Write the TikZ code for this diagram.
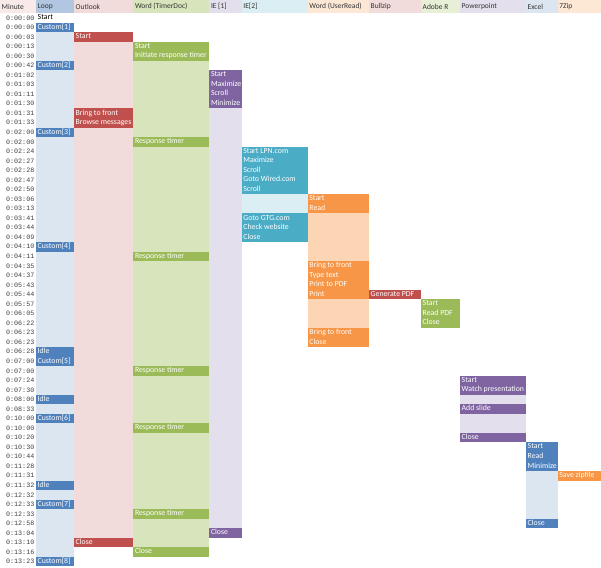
\documentclass[tikz,border=0pt]{standalone}
\usepackage{fontspec}
\setmainfont{Carlito}
\newfontfamily\minutefont{Liberation Mono}
\usetikzlibrary{positioning}

\definecolor{loopD}{HTML}{4F81BD}
\definecolor{loopL}{HTML}{DCE6F1}
\definecolor{outD}{HTML}{C0504D}
\definecolor{outL}{HTML}{F2DCDB}
\definecolor{wordD}{HTML}{9BBB59}
\definecolor{wordL}{HTML}{D8E4BC}
\definecolor{ieaD}{HTML}{8064A2}
\definecolor{ieaL}{HTML}{E4DFEC}
\definecolor{iebD}{HTML}{4BACC6}
\definecolor{iebL}{HTML}{DAEEF3}
\definecolor{readD}{HTML}{F79646}
\definecolor{readL}{HTML}{FCD5B4}

% one coloured cell of the timeline with its text
\newcommand\taskcell[6]{%
  \fill[#5] (#2,{rt(#4)}) rectangle (#3,{rt(#4)+9.54});
  \node[celltext] (#1) at (#2,{rt(#4)+4.77}) {#6};}

\begin{document}
\begin{tikzpicture}[x=1pt, y=-1pt,
  declare function={rt(\k)=3.5+9.54*\k;},
  celltext/.style={anchor=west, inner sep=1.5pt, text=white, text height=5.3pt, text depth=1.6pt,
    font=\fontsize{7.8}{8}\selectfont},
  head/.style={anchor=west, inner sep=1.5pt, text=black!80, font=\fontsize{7.5}{8}\selectfont},
  minute/.style={anchor=east, inner sep=1pt, text=black!75, font=\minutefont\fontsize{6.7}{7}\selectfont}
]
  \useasboundingbox (0,0) rectangle (601,567);

  % header row
  \fill[outL!60]      (0,0)     rectangle (36,13);
  \fill[loopD!45]     (36,0)    rectangle (74,13);
  \fill[outL]         (74,0)    rectangle (133.3,13);
  \fill[wordL]        (133.3,0) rectangle (209.3,13);
  \fill[ieaL]         (209.3,0) rectangle (241.7,13);
  \fill[iebL]         (241.7,0) rectangle (307.7,13);
  \fill[readL!55]     (307.7,0) rectangle (369,13);
  \fill[outL]         (369,0)   rectangle (421,13);
  \fill[wordL!60]     (421,0)   rectangle (460,13);
  \fill[ieaL]         (460,0)   rectangle (526,13);
  \fill[loopL]        (526,0)   rectangle (557.7,13);
  \fill[readL!55]     (557.7,0) rectangle (601,13);
  \node[head] (hMin)   at (0,6.5)     {Minute};
  \node[head] (hLoop)  at (36,6.5)    {Loop};
  \node[head] (hOut)   at (74,6.5)    {Outlook};
  \node[head] (hWordT) at (133.3,6.5) {Word (TimerDoc)};
  \node[head] (hIEa)   at (209.3,6.5) {IE [1]};
  \node[head] (hIEb)   at (241.7,6.5) {IE[2]};
  \node[head] (hWordU) at (307.7,6.5) {Word (UserRead)};
  \node[head] (hBull)  at (369,6.5)   {Bullzip};
  \node[head] (hAdobe) at (421,6.5)   {Adobe R};
  \node[head] (hPpt)   at (460,6.5)   {Powerpoint};
  \node[head] (hExcel) at (526,6.5)   {Excel};
  \node[head] (hZip)   at (557.7,6.5) {7Zip};

  % minute column
  \foreach \t [count=\i] in {0:00:00,0:00:00,0:00:03,0:00:13,0:00:30,0:00:42,0:01:02,0:01:03,
      0:01:11,0:01:30,0:01:31,0:01:33,0:02:00,0:02:00,0:02:24,0:02:27,0:02:28,0:02:47,0:02:50,
      0:03:06,0:03:13,0:03:41,0:03:44,0:04:09,0:04:10,0:04:11,0:04:35,0:04:37,0:05:43,0:05:44,
      0:05:57,0:06:05,0:06:22,0:06:23,0:06:23,0:06:28,0:07:00,0:07:00,0:07:24,0:07:30,0:08:00,
      0:08:33,0:10:00,0:10:00,0:10:20,0:10:30,0:10:44,0:11:28,0:11:31,0:11:32,0:12:32,0:12:33,
      0:12:33,0:12:58,0:13:04,0:13:10,0:13:16,0:13:23}
    \node[minute] (m\i) at (35.5,{rt(\i)+4.77}) {\t};

  % light blocks: the time a program stays open
  \fill[loopL] (36,{rt(3)})    rectangle (74,{rt(58)});
  \fill[outL]  (74,{rt(4)})    rectangle (133.3,{rt(56)});
  \fill[wordL] (133.3,{rt(6)}) rectangle (209.3,{rt(57)});
  \fill[ieaL]  (209.3,{rt(11)}) rectangle (241.7,{rt(55)});
  \fill[iebL]  (241.7,{rt(20)}) rectangle (307.7,{rt(22)});
  \fill[readL] (307.7,{rt(22)}) rectangle (369,{rt(27)});
  \fill[readL] (307.7,{rt(31)}) rectangle (369,{rt(34)});
  \fill[ieaL]  (460,{rt(41)})  rectangle (526,{rt(42)});
  \fill[ieaL]  (460,{rt(43)})  rectangle (526,{rt(45)});
  \fill[loopL] (526,{rt(49)})  rectangle (557.7,{rt(54)});

  % Loop
  \node[celltext, text=black] (loop0) at (36,{rt(1)+4.77}) {Start};
  \taskcell{loop1}{36}{74}{2}{loopD}{Custom[1]}
  \taskcell{loop2}{36}{74}{6}{loopD}{Custom[2]}
  \taskcell{loop3}{36}{74}{13}{loopD}{Custom[3]}
  \taskcell{loop4}{36}{74}{25}{loopD}{Custom[4]}
  \taskcell{idle1}{36}{74}{36}{loopD}{Idle}
  \taskcell{loop5}{36}{74}{37}{loopD}{Custom[5]}
  \taskcell{idle2}{36}{74}{41}{loopD}{Idle}
  \taskcell{loop6}{36}{74}{43}{loopD}{Custom[6]}
  \taskcell{idle3}{36}{74}{50}{loopD}{Idle}
  \taskcell{loop7}{36}{74}{52}{loopD}{Custom[7]}
  \taskcell{loop8}{36}{74}{58}{loopD}{Custom[8]}

  % Outlook
  \taskcell{outStart}{74}{133.3}{3}{outD}{Start}
  \taskcell{outFront}{74}{133.3}{11}{outD}{Bring to front}
  \taskcell{outBrowse}{74}{133.3}{12}{outD}{Browse messages}
  \taskcell{outClose}{74}{133.3}{56}{outD}{Close}

  % Word (TimerDoc)
  \taskcell{wtStart}{133.3}{209.3}{4}{wordD}{Start}
  \taskcell{wtInit}{133.3}{209.3}{5}{wordD}{Initiate response timer}
  \foreach \r in {14,26,38,44,53}
    \taskcell{wtResp\r}{133.3}{209.3}{\r}{wordD}{Response timer};
  \taskcell{wtClose}{133.3}{209.3}{57}{wordD}{Close}

  % IE [1]
  \foreach \t [count=\i from 7] in {Start,Maximize,Scroll,Minimize}
    \taskcell{ieA\i}{209.3}{241.7}{\i}{ieaD}{\t};
  \taskcell{ieAClose}{209.3}{241.7}{55}{ieaD}{Close}

  % IE[2]
  \foreach \t [count=\i from 15] in {Start LPN.com,Maximize,Scroll,Goto Wired.com,Scroll}
    \taskcell{ieB\i}{241.7}{307.7}{\i}{iebD}{\t};
  \foreach \t [count=\i from 22] in {Goto GTG.com,Check website,Close}
    \taskcell{ieB\i}{241.7}{307.7}{\i}{iebD}{\t};

  % Word (UserRead)
  \foreach \t [count=\i from 20] in {Start,Read}
    \taskcell{wu\i}{307.7}{369}{\i}{readD}{\t};
  \foreach \t [count=\i from 27] in {Bring to front,Type text,Print to PDF,Print}
    \taskcell{wu\i}{307.7}{369}{\i}{readD}{\t};
  \foreach \t [count=\i from 34] in {Bring to front,Close}
    \taskcell{wu\i}{307.7}{369}{\i}{readD}{\t};

  % Bullzip, Adobe R
  \taskcell{bullGen}{369}{421}{30}{outD}{Generate PDF}
  \foreach \t [count=\i from 31] in {Start,Read PDF,Close}
    \taskcell{adobe\i}{421}{460}{\i}{wordD}{\t};

  % Powerpoint
  \taskcell{pptStart}{460}{526}{39}{ieaD}{Start}
  \taskcell{pptWatch}{460}{526}{40}{ieaD}{Watch presentation}
  \taskcell{pptAdd}{460}{526}{42}{ieaD}{Add slide}
  \taskcell{pptClose}{460}{526}{45}{ieaD}{Close}

  % Excel, 7Zip
  \foreach \t [count=\i from 46] in {Start,Read,Minimize}
    \taskcell{xl\i}{526}{557.7}{\i}{loopD}{\t};
  \taskcell{xlClose}{526}{557.7}{54}{loopD}{Close}
  \taskcell{zipSave}{557.7}{601}{49}{readD}{Save zipfile}
\end{tikzpicture}
\end{document}
